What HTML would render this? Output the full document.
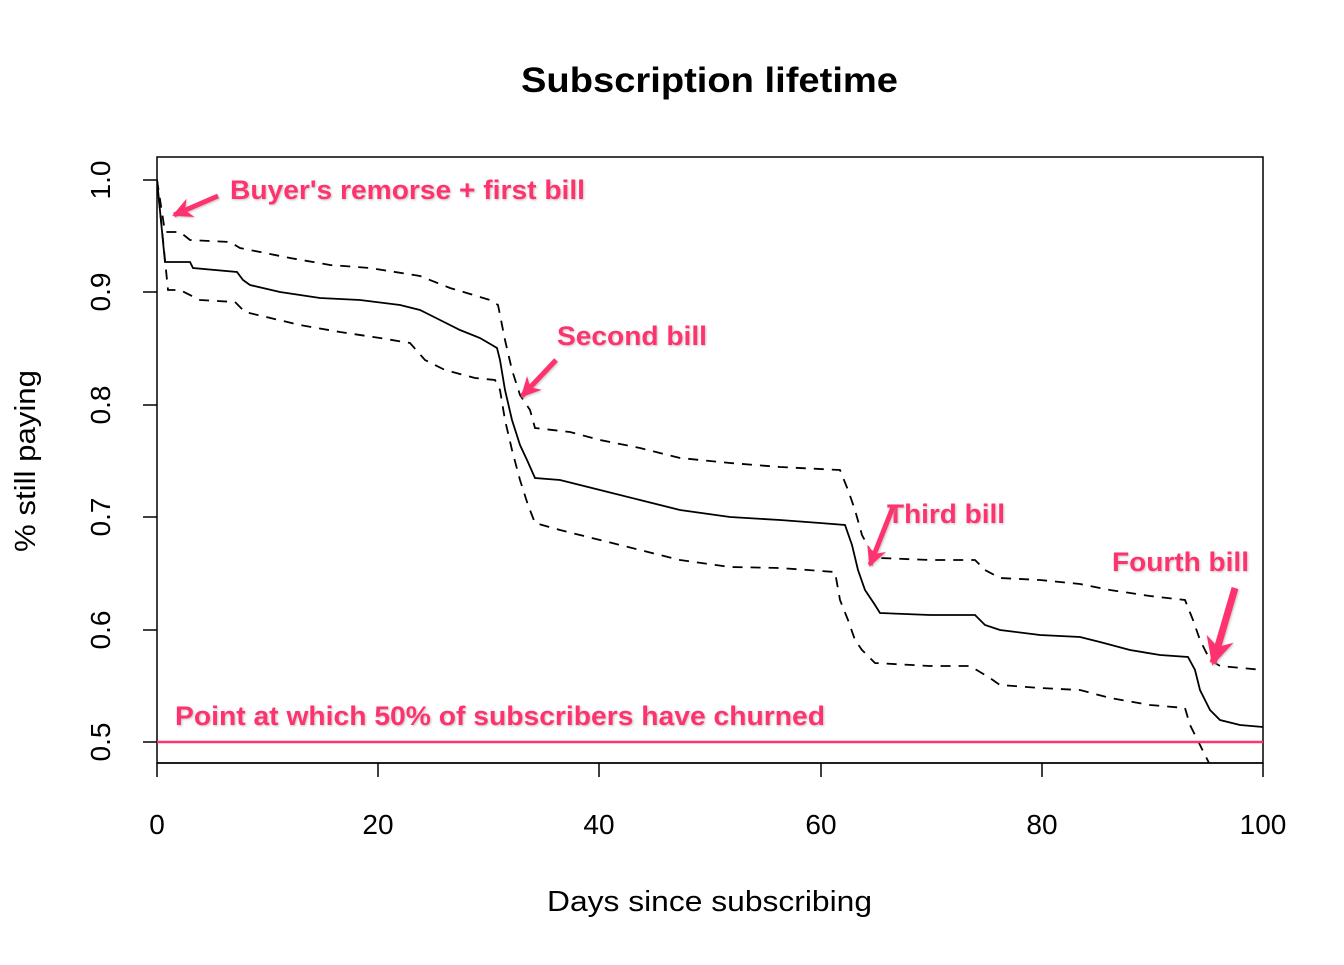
<!DOCTYPE html><html><head><style>body{margin:0;background:#fff}</style></head><body>
<svg width="1344" height="960" xmlns="http://www.w3.org/2000/svg" font-family="Liberation Sans, sans-serif">
<defs><clipPath id="c"><rect x="157" y="157" width="1106" height="606"/></clipPath>
<marker id="a" viewBox="0 0 10 10" refX="9" refY="5" markerWidth="4" markerHeight="4" orient="auto"><path d="M0,0 L10,5 L0,10 L3,5z" fill="#ff3370"/></marker>
<filter id="s"><feDropShadow dx="1" dy="1" stdDeviation="1" flood-color="#999" flood-opacity="0.6"/></filter></defs>
<text x="521" y="92" textLength="377" lengthAdjust="spacingAndGlyphs" font-size="35" font-weight="bold">Subscription lifetime</text>
<g font-size="28" text-anchor="middle"><text x="157" y="834">0</text><text x="378" y="834">20</text><text x="599" y="834">40</text><text x="821" y="834">60</text><text x="1042" y="834">80</text><text x="1263" y="834">100</text></g>
<text x="547" y="911" textLength="325" lengthAdjust="spacingAndGlyphs" font-size="29">Days since subscribing</text>
<g font-size="28" text-anchor="middle"><text transform="translate(110,180) rotate(-90)">1.0</text><text transform="translate(110,292) rotate(-90)">0.9</text><text transform="translate(110,405) rotate(-90)">0.8</text><text transform="translate(110,517) rotate(-90)">0.7</text><text transform="translate(110,630) rotate(-90)">0.6</text><text transform="translate(110,742) rotate(-90)">0.5</text></g>
<text transform="translate(35,552) rotate(-90)" textLength="182" lengthAdjust="spacingAndGlyphs" font-size="29">% still paying</text>
<g stroke="#000" stroke-width="1.5"><line x1="157" y1="763" x2="1263" y2="763"/><line x1="157" y1="763" x2="157" y2="777"/><line x1="378" y1="763" x2="378" y2="777"/><line x1="599" y1="763" x2="599" y2="777"/><line x1="821" y1="763" x2="821" y2="777"/><line x1="1042" y1="763" x2="1042" y2="777"/><line x1="1263" y1="763" x2="1263" y2="777"/>
<line x1="143" y1="180" x2="157" y2="180"/><line x1="143" y1="292" x2="157" y2="292"/><line x1="143" y1="405" x2="157" y2="405"/><line x1="143" y1="517" x2="157" y2="517"/><line x1="143" y1="630" x2="157" y2="630"/><line x1="143" y1="742" x2="157" y2="742"/>
<rect x="157" y="157" width="1106" height="606" fill="none"/></g>
<g clip-path="url(#c)" fill="none" stroke="#000" stroke-width="1.8">
<polyline points="157,180 165,262 190,262 193,268 237,272 243,280 250,285 280,292 320,298 360,300 400,305 420,310 440,320 460,330 480,338 497,348 500,360 505,390 512,420 520,445 527,460 535,478 560,480 600,490 640,500 680,510 730,517 780,520 820,523 845,525 852,545 858,570 865,590 875,605 880,613 930,615 975,615 985,625 1000,630 1040,635 1080,637 1100,642 1130,650 1160,655 1188,657 1195,670 1200,690 1210,710 1220,720 1240,725 1263,727"/>
<g stroke-dasharray="10,8">
<polyline points="157,180 165,232 180,232 190,240 230,242 240,248 290,258 330,265 370,268 420,276 450,288 490,300 498,305 505,340 512,370 520,395 530,410 535,428 570,432 600,440 640,448 680,458 730,463 780,467 840,470 848,490 855,510 862,535 870,550 880,558 930,560 975,560 985,570 1000,578 1040,580 1080,584 1110,590 1150,596 1185,600 1193,620 1200,640 1210,660 1220,666 1263,670"/>
<polyline points="157,180 168,290 180,290 200,300 235,302 245,312 300,325 340,332 380,338 410,343 425,360 445,370 475,378 495,380 500,390 505,420 512,450 520,480 528,505 535,523 560,530 600,540 640,550 680,560 730,567 780,568 835,572 840,600 848,620 855,640 862,650 875,663 930,666 970,666 990,678 1000,685 1040,688 1080,690 1110,698 1150,705 1185,708 1190,725 1200,745 1210,765"/>
</g></g>
<line x1="157" y1="742" x2="1263" y2="742" stroke="#ff3370" stroke-width="2.5"/>
<g fill="#ff3370" font-weight="bold" font-size="27" filter="url(#s)" lengthAdjust="spacingAndGlyphs">
<text x="230" y="199" textLength="355" lengthAdjust="spacingAndGlyphs">Buyer's remorse + first bill</text>
<text x="557" y="345" textLength="150" lengthAdjust="spacingAndGlyphs">Second bill</text>
<text x="887" y="523" textLength="118" lengthAdjust="spacingAndGlyphs">Third bill</text>
<text x="1112" y="571" textLength="137" lengthAdjust="spacingAndGlyphs">Fourth bill</text>
<text x="175" y="725" textLength="650" lengthAdjust="spacingAndGlyphs">Point at which 50% of subscribers have churned</text></g>
<g stroke="#ff3370" stroke-width="5" marker-end="url(#a)" fill="none" filter="url(#s)">
<line x1="218" y1="196" x2="174" y2="215"/>
<line x1="556" y1="360" x2="522" y2="396"/>
<line x1="893" y1="507" x2="870" y2="565"/>
<line x1="1235" y1="588" x2="1213" y2="663" stroke-width="7"/></g>
</svg></body></html>
